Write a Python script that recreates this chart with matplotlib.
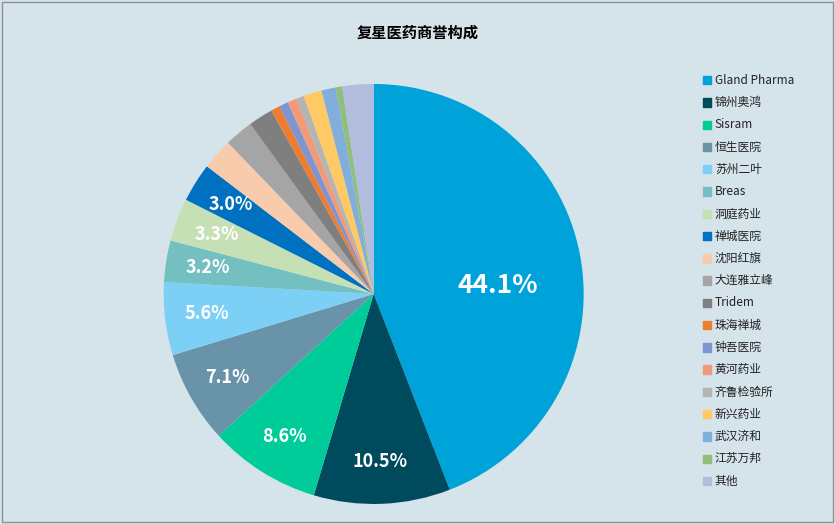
import matplotlib
matplotlib.use("Agg")
import matplotlib.pyplot as plt
from matplotlib.patches import Rectangle

plt.rcParams['font.family'] = ['Noto Sans CJK SC', 'DejaVu Sans']

labels = ["Gland Pharma", "锦州奥鸿", "Sisram", "恒生医院", "苏州二叶", "Breas", "洞庭药业",
          "禅城医院", "沈阳红旗", "大连雅立峰", "Tridem", "珠海禅城", "钟吾医院", "黄河药业",
          "齐鲁检验所", "新兴药业", "武汉济和", "江苏万邦", "其他"]
values = [44.1, 10.5, 8.6, 7.1, 5.6, 3.2, 3.3, 3.0, 2.4, 2.2, 1.9, 0.7, 0.7, 0.7, 0.6, 1.4, 1.1, 0.5, 2.4]
colors = ["#00A2DA", "#004A5E", "#00CC99", "#6893A8", "#7DD0F5", "#74C0C0", "#C6E0B6",
          "#0070C0", "#F8CBAD", "#A5A5A5", "#7F7F7F", "#ED7D31", "#7F95D1", "#F09A78",
          "#B4B4B4", "#FFC966", "#82AEDC", "#92BE7C", "#B2BCDD"]
bg = "#D5E3EB"

fig = plt.figure(figsize=(8.35, 5.24), dpi=100, facecolor=bg)
ax = fig.add_axes([0.196, 0.038, 0.503, 0.802])
ax.set_facecolor(bg)

def fmt(p):
    return f"{p:.1f}%" if p >= 2.95 else ""

wedges, texts, autotexts = ax.pie(values, colors=colors, startangle=90, counterclock=False,
                                  autopct=fmt, pctdistance=0.8,
                                  textprops=dict(color="white", fontweight="bold", fontsize=13))
autotexts[0].set_fontsize(19)
autotexts[0].set_position((0.59, 0.04))
ax.set_xlim(-1, 1)
ax.set_ylim(-1, 1)
ax.set_aspect('equal')

fig.text(0.5, 0.937, "复星医药商誉构成", ha="center", va="center", fontsize=11, fontweight="bold")

x0, y0, dy = 0.842, 0.847, 0.0425
for i, (l, c) in enumerate(zip(labels, colors)):
    y = y0 - i * dy
    fig.patches.append(Rectangle((x0, y - 0.008), 0.009, 0.016, transform=fig.transFigure, color=c))
    fig.text(x0 + 0.014, y, l, fontsize=8.5, va="center", color="#222222")

fig.patches.append(Rectangle((0.002, 0.003), 0.996, 0.994, transform=fig.transFigure,
                             fill=False, edgecolor="#909090", lw=1))
fig.savefig("out.png", dpi=100, facecolor=bg)
